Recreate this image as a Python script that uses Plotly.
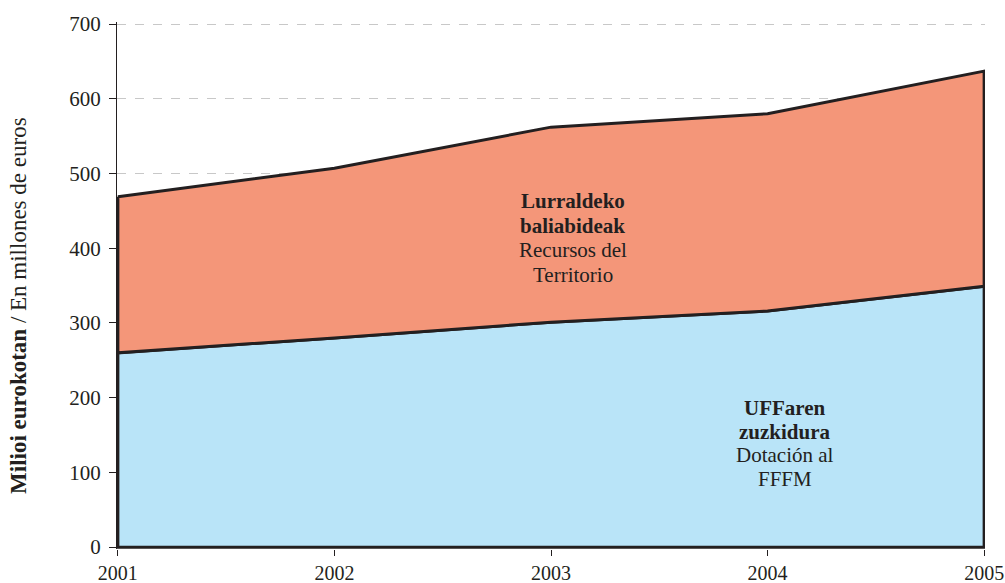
import plotly.graph_objects as go

# Years on the horizontal axis
years = [2001, 2002, 2003, 2004, 2005]
# Dotación al FFFM (lower band), millones de euros
fffm = [260, 280, 301, 316, 349]
# Total including Recursos del Territorio (upper edge of the stack)
total = [469, 507, 562, 580, 637]

y_ticks = [0, 100, 200, 300, 400, 500, 600, 700]

# In-chart labels: (bold?, text) per line
label_territorio = [(True, "Lurraldeko"), (True, "baliabideak"),
                    (False, "Recursos del"), (False, "Territorio")]
label_fffm = [(True, "UFFaren"), (True, "zuzkidura"),
              (False, "Dotación al"), (False, "FFFM")]

FONT = "Liberation Serif"
INK = "#231f20"
BLUE = "#b9e4f8"
ORANGE = "#f49679"

fig = go.Figure()

# Lower band: FFFM allocation, closed down to zero
fig.add_trace(go.Scatter(
    x=years + [years[-1], years[0], years[0]],
    y=fffm + [0, 0, fffm[0]],
    mode="lines",
    fill="toself",
    fillcolor=BLUE,
    line=dict(color=INK, width=3),
    hoverinfo="skip",
    showlegend=False,
))

# Upper band: territory resources stacked on top of FFFM
fig.add_trace(go.Scatter(
    x=years + years[::-1] + [years[0]],
    y=total + fffm[::-1] + [total[0]],
    mode="lines",
    fill="toself",
    fillcolor=ORANGE,
    line=dict(color=INK, width=3),
    hoverinfo="skip",
    showlegend=False,
))


def add_label_block(lines, x, y, spacing):
    """Stack label lines around (x, y) with a fixed pixel line spacing."""
    n = len(lines)
    for i, (bold, txt) in enumerate(lines):
        shift = ((n - 1) / 2 - i) * spacing
        fig.add_annotation(
            x=x, y=y, xref="x", yref="y", yshift=shift,
            text=f"<b>{txt}</b>" if bold else txt,
            showarrow=False, xanchor="center", yanchor="middle",
            font=dict(family=FONT, size=21, color=INK),
        )


add_label_block(label_territorio, 2003.1, 414, 24.5)
add_label_block(label_fffm, 2004.08, 138.5, 23.7)

# Vertical axis title (bold Basque, regular Spanish)
fig.add_annotation(
    x=-0.113, y=0.463, xref="paper", yref="paper",
    text="<b>Milioi eurokotan</b> / En millones de euros",
    textangle=-90, showarrow=False,
    xanchor="center", yanchor="middle",
    font=dict(family=FONT, size=23, color=INK),
)

fig.update_layout(
    width=1005, height=583,
    margin=dict(l=117, r=20, t=22, b=34),
    paper_bgcolor="white",
    plot_bgcolor="white",
    font=dict(family=FONT, size=20, color=INK),
    xaxis=dict(
        range=[2000.996, 2005.004],
        tickvals=years,
        ticktext=[str(y) for y in years],
        ticks="outside", ticklen=6, tickcolor=INK, tickwidth=1,
        showgrid=False, zeroline=False,
        showline=False,
        automargin=False,
        tickfont=dict(family=FONT, size=20, color=INK),
    ),
    yaxis=dict(
        range=[-2.5, 702.7],
        tickvals=y_ticks,
        ticks="outside", ticklen=7, tickcolor=INK, tickwidth=1,
        ticklabelstandoff=4,
        showgrid=True, gridcolor="#c8c8c8", griddash="dash", gridwidth=1,
        zeroline=False,
        showline=True, linecolor=INK, linewidth=1,
        automargin=False,
        tickfont=dict(family=FONT, size=21, color=INK),
    ),
)

fig.write_html("out.html")
